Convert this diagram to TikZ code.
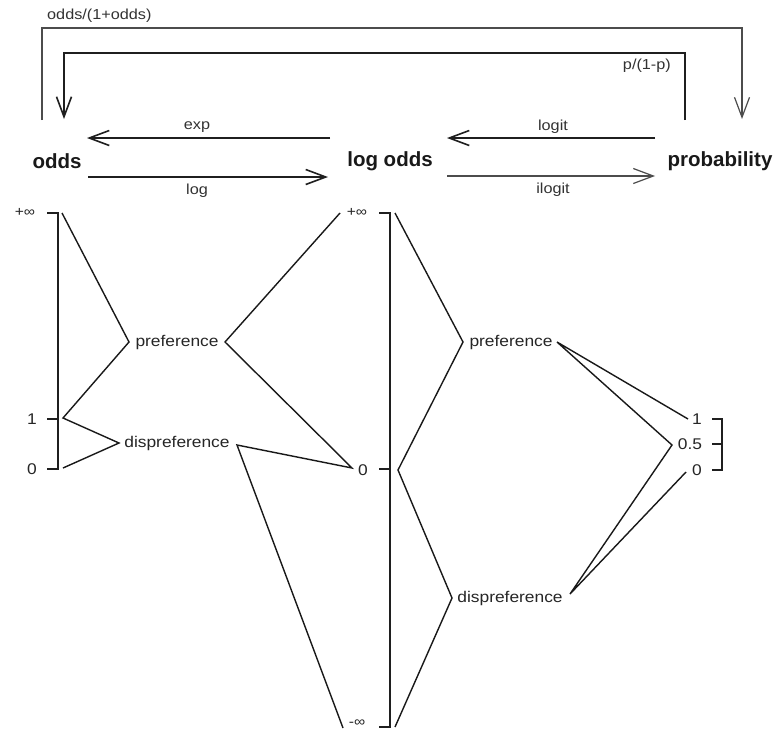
\documentclass[tikz,border=0pt]{standalone}
\usepackage{fontspec}
\setmainfont{Liberation Sans}
\newfontfamily\labfont[FakeStretch=1.12]{Liberation Sans}
\usetikzlibrary{arrows.meta}
\begin{document}
\begin{tikzpicture}[x=1pt,y=-1pt,
  lbl/.style={font=\labfont\fontsize{14.5}{17}\selectfont, text=black!80, inner sep=0pt},
  word/.style={font=\labfont\fontsize{15.5}{18}\selectfont, text=black!85, inner sep=0pt},
  num/.style={font=\labfont\fontsize{15.5}{18}\selectfont, text=black!85, inner sep=0pt},
  inf/.style={font=\labfont\fontsize{14}{16}\selectfont, text=black!85, inner sep=0pt},
  big/.style={font=\bfseries\fontsize{20.5}{24}\selectfont, text=black!90, inner sep=0pt},
  ln/.style={line width=1.6pt, draw=black!88},
  thin/.style={line width=1.2pt, draw=black!70},
  zz/.style={line width=1.4pt, draw=black!90, line join=miter},
  arr/.style={-{Straight Barb[length=20pt,width=15pt]}}
]
\useasboundingbox (0,0) rectangle (775,731);
\fill[white] (0,0) rectangle (775,731);

% ---- main labels
\node[big] (odds) at (57,161) {odds};
\node[big] (logodds) at (390,161) {log odds};
\node[big] (prob) at (720,161) {probability};

% ---- top loops
\coordinate (oA) at (42,120); \coordinate (oB) at (42,28);
\coordinate (oC) at (742,28); \coordinate (oD) at (742,119);
\draw[thin,arr] (oA) -- (oB) -- (oC) -- (oD);
\node[lbl,anchor=west] (lodds) at (47,16) {odds/(1+odds)};

\coordinate (iA) at (685,120); \coordinate (iB) at (685,53);
\coordinate (iC) at (64,53); \coordinate (iD) at (64,119);
\draw[ln,arr] (iA) -- (iB) -- (iC) -- (iD);
\node[lbl,anchor=east] (lp) at (671,66) {p/(1-p)};

% ---- horizontal arrows
\coordinate (e1) at (330,138); \coordinate (e2) at (87,138);
\draw[ln,arr] (e1) -- (e2);
\node[lbl] (lexp) at (197,127) {exp};
\coordinate (g1) at (88,177); \coordinate (g2) at (328,177);
\draw[ln,arr] (g1) -- (g2);
\node[lbl] (llog) at (197,191) {log};
\coordinate (l1) at (655,138); \coordinate (l2) at (447,138);
\draw[ln,arr] (l1) -- (l2);
\node[lbl] (llogit) at (553,127) {logit};
\coordinate (k1) at (447,176); \coordinate (k2) at (655,176);
\draw[thin,arr] (k1) -- (k2);
\node[lbl] (lilogit) at (553,190) {ilogit};

% ---- left scale (odds)
\coordinate (Lt) at (58,213); \coordinate (L1) at (58,419); \coordinate (L0) at (58,469);
\draw[ln] (47,213) -- (Lt) -- (L0) -- (47,469);
\draw[ln] (47,419) -- (L1);
\node[inf] (Linf) at (25,212) {+∞};
\node[num] (Lone) at (32,419) {1};
\node[num] (Lzero) at (32,469) {0};

\node[word] (pref1) at (177,342) {preference};
\node[word] (disp1) at (177,443) {dispreference};
\coordinate (a1) at (62,213); \coordinate (a2) at (129,342);
\coordinate (a3) at (63,418); \coordinate (a4) at (119,443);
\coordinate (a5) at (63,468);
\draw[zz] (a1) -- (a2) -- (a3) -- (a4) -- (a5);

\coordinate (b1) at (225,342); \coordinate (b2) at (237,445);
\coordinate (mTop) at (340,213); \coordinate (mZero) at (352,468);
\coordinate (mBot) at (343,728);
\draw[zz] (mTop) -- (b1) -- (mZero) -- (b2) -- (mBot);

% ---- middle scale (log odds)
\coordinate (Mt) at (390,213); \coordinate (M0) at (390,469); \coordinate (Mb) at (390,727);
\draw[ln] (379,213) -- (Mt) -- (Mb) -- (379,727);
\draw[ln] (379,469) -- (M0);
\node[inf] (Minf) at (357,212) {+∞};
\node[num] (Mzero) at (363,470) {0};
\node[inf] (Mminf) at (357,723) {-∞};

\node[word] (pref2) at (511,342) {preference};
\node[word] (disp2) at (510,598) {dispreference};
\coordinate (c1) at (395,213); \coordinate (c2) at (463,342);
\coordinate (c3) at (398,470); \coordinate (c4) at (452,598);
\coordinate (c5) at (395,727);
\draw[zz] (c1) -- (c2) -- (c3) -- (c4) -- (c5);

\coordinate (d1) at (557,342); \coordinate (d2) at (570,594);
\coordinate (pOne) at (688,419); \coordinate (pHalf) at (672,445);
\coordinate (pZero) at (686,472);
\draw[zz] (pOne) -- (d1) -- (pHalf) -- (d2) -- (pZero);

% ---- right scale (probability)
\coordinate (Rt) at (722,419); \coordinate (Rm) at (722,444); \coordinate (Rb) at (722,470);
\draw[ln] (712,419) -- (Rt) -- (Rb) -- (712,470);
\draw[ln] (712,444) -- (Rm);
\node[num] (Rone) at (697,419) {1};
\node[num] (Rhalf) at (690,444) {0.5};
\node[num] (Rzero) at (697,470) {0};
\end{tikzpicture}
\end{document}
